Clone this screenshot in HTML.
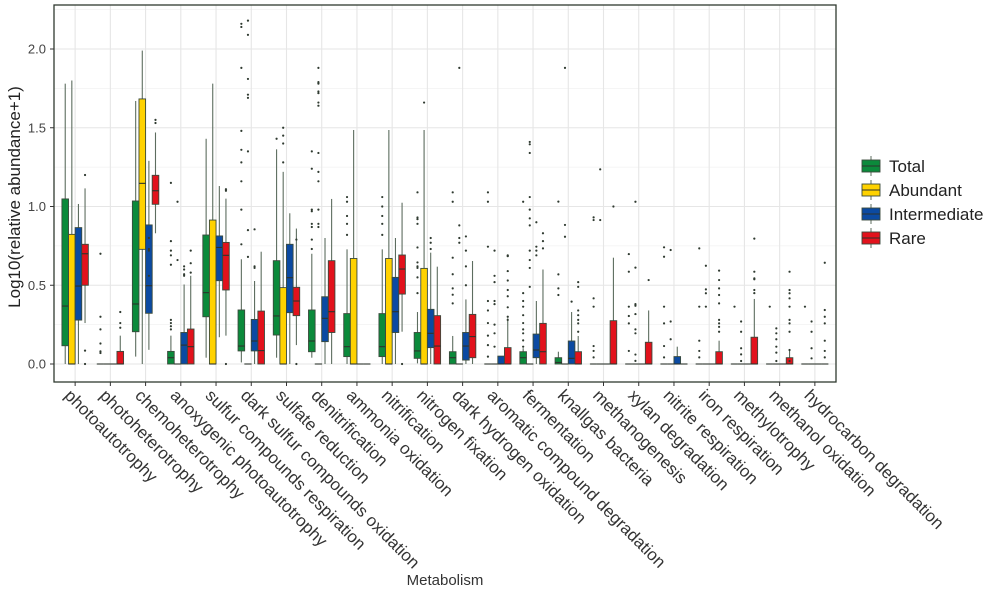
<!DOCTYPE html>
<html><head><meta charset="utf-8">
<style>
html,body{margin:0;padding:0;background:#fff;}
svg{display:block;font-family:"Liberation Sans",Arial,sans-serif;}
</style></head>
<body>
<svg id="chart" width="1000" height="593" viewBox="0 0 1000 593" xmlns="http://www.w3.org/2000/svg">
  <g id="grid"></g>
  <g id="marks"></g>
  <rect x="54" y="5" width="782" height="377" fill="none" stroke="#2f3a2f" stroke-width="1.3"/>
  <g id="axes"></g>
  <text transform="translate(20,197) rotate(-90)" text-anchor="middle" font-size="17" fill="#222">Log10(relative abundance+1)</text>
  <text x="445" y="585" text-anchor="middle" font-size="15" fill="#333">Metabolism</text>
  <g id="legend"></g>
</svg>
<script>
const categories = ["photoautotrophy","photoheterotrophy","chemoheterotrophy","anoxygenic photoautotrophy","sulfur compounds respiration","dark sulfur compounds oxidation","sulfate reduction","denitrification","ammonia oxidation","nitrification","nitrogen fixation","dark hydrogen oxidation","aromatic compound degradation","fermentation","knallgas bacteria","methanogenesis","xylan degradation","nitrite respiration","iron respiration","methylotrophy","methanol oxidation","hydrocarbon degradation"];
const seriesNames = ["Total","Abundant","Intermediate","Rare"];
const yTicks = [0,0.5,1,1.5,2];
const yTickLabels = ["0.0","0.5","1.0","1.5","2.0"];

const totalQ1  = [0.116,0,0.205,0,0.30,0.083,0.184,0.078,0.047,0.047,0.036,0,0,0,0,0,0,0,0,0,0,0];
const totalMed = [0.368,0,0.381,0.04,0.453,0.114,0.305,0.146,0.11,0.11,0.083,0.04,0,0.04,0.01,0,0,0,0,0,0,0];
const totalQ3  = [1.048,0,1.035,0.08,0.819,0.343,0.656,0.343,0.32,0.32,0.2,0.078,0,0.078,0.04,0,0,0,0,0,0,0];
const totalLo  = [0,0,0.047,0,0.04,0.01,0.04,0.04,0,0,0.004,0,0,0,0,0,0,0,0,0,0,0];
const totalHi  = [1.78,0,1.67,0.18,1.43,0.665,1.363,0.70,0.728,0.728,0.33,0.178,0,0.1,0.078,0,0,0,0,0,0,0];
const totalOut = [[],[0.70,0.30,0.22,0.13,0.08,0.07],[],[1.15,0.78,0.72,0.69,0.63,0.28,0.26,0.24,0.22],[],[2.16,2.14,1.88,1.48,1.36,1.28,1.16,0.98,0.76],[1.43],[1.35,1.24,0.98,0.97,0.89,0.87,0.79,0.73],[1.06,1.03,0.94,0.89,0.82],[1.06,1.0,0.94,0.89,0.82],[1.09,0.93,0.92,0.89,0.74,0.645,0.62,0.61,0.55,0.45],[1.09,1.03,0.675,0.57,0.48,0.44,0.385],[1.09,1.03,0.745,0.40,0.34,0.26,0.18,0.12,0.047],[1.03,0.45,0.40,0.364,0.31,0.26,0.22,0.195,0.15,0.11],[1.031,0.569,0.48,0.438],[0.931,0.914,0.417,0.364,0.114,0.083,0.042],[0.698,0.586,0.364,0.305,0.258,0.083],[0.741,0.681,0.364,0.258,0.114,0.042],[0.734,0.364,0.148,0.083,0.042],[0.364],[0.364],[0.364]];

const abundQ1  = [0,0,0.728,0,0,0,0,0,0,0,0,0,0,0,0,0,0,0,0,0,0,0];
const abundMed = [0,0,1.147,0,0,0,0,0,0,0,0,0,0,0,0,0,0,0,0,0,0,0];
const abundQ3  = [0.823,0,1.683,0,0.914,0,0.485,0,0.67,0.67,0.607,0,0,0,0,0,0,0,0,0,0,0];
const abundLo  = [0,0,0,0,0,0,0,0,0,0,0,0,0,0,0,0,0,0,0,0,0,0];
const abundHi  = [1.80,0,1.99,0,1.78,0,1.22,0,1.486,1.486,1.486,0,0,0,0,0,0,0,0,0,0,0];
const abundOut = [[],[],[],[1.03,0.66],[],[2.18,2.09,1.81,1.71,1.69,1.35,0.85,0.68],[1.50,1.45,1.40,1.28],[1.88,1.79,1.78,1.73,1.72,1.66,1.64,1.34,1.22,1.16,0.98,0.89,0.87],[],[],[1.66],[1.88,0.88,0.80,0.77],[0.72,0.56,0.52,0.40,0.38,0.25,0.195,0.11],[1.41,1.395,1.34,1.06,0.98,0.925,0.88,0.72,0.66,0.61,0.49],[1.88,0.883,0.808],[1.236,0.914],[1.03,0.612,0.38,0.37,0.317,0.22,0.195,0.06,0.02],[0.724,0.27,0.157],[0.624,0.474,0.449,0.364],[0.27,0.205,0.10,0.061,0.019],[0.226,0.195,0.157,0.11,0.072,0.019],[0.27,0.205,0.10,0.036]];

const interQ1  = [0.279,0,0.322,0,0.529,0.083,0.326,0.142,0,0.2,0.104,0.025,0,0.04,0,0,0,0,0,0,0,0];
const interMed = [0.495,0,0.497,0.12,0.74,0.146,0.548,0.29,0,0.332,0.195,0.114,0,0.089,0.036,0,0,0,0,0,0,0];
const interQ3  = [0.866,0,0.883,0.2,0.813,0.283,0.76,0.427,0,0.55,0.347,0.2,0.05,0.19,0.146,0,0,0.047,0,0,0,0];
const interLo  = [0,0,0.09,0,0.17,0,0,0,0,0,0,0,0,0,0,0,0,0,0,0,0,0];
const interHi  = [1.016,0,1.29,0.505,1.13,0.527,0.957,0.80,0,0.80,0.707,0.41,0.05,0.40,0.33,0,0,0.11,0,0,0,0];
const interOut = [[],[],[0.80,0.73,0.72,0.56],[0.62,0.60,0.57,0.56],[],[0.855,0.62,0.61],[],[],[],[],[0.80,0.77,0.73],[0.81,0.72,0.62,0.5],[],[0.90,0.745,0.72,0.69],[0.396],[],[],[],[],[],[],[]];

const rareQ1  = [0.50,0,1.014,0,0.47,0,0.307,0.2,0,0.444,0,0.04,0,0,0,0,0,0,0,0,0,0];
const rareMed = [0.70,0,1.10,0.11,0.69,0.085,0.40,0.332,0,0.603,0.114,0.174,0,0.078,0,0,0,0,0,0,0,0];
const rareQ3  = [0.76,0.08,1.198,0.222,0.772,0.336,0.487,0.656,0,0.692,0.307,0.315,0.104,0.258,0.078,0.275,0.138,0,0.078,0.17,0.04,0];
const rareLo  = [0.26,0,0.83,0,0.18,0,0.12,0,0,0.205,0,0,0,0,0,0,0,0,0,0,0,0];
const rareHi  = [1.115,0.18,1.47,0.56,1.05,0.713,0.86,1.048,0,1.024,0.618,0.654,0.29,0.60,0.178,0.675,0.34,0,0.148,0.413,0.083,0];
const rareOut = [[1.2,0.085,0],[0.33,0.26,0.23],[1.55,1.53],[0.72,0.64,0.58],[1.11,1.10,0],[],[0.79,0],[],[],[0],[],[],[0.69,0.685,0.59,0.53,0.47,0.43,0.36,0.30,0.28],[0.83,0.78,0.734],[0.52,0.49,0.34,0.31,0.28,0.258,0.205],[1.0],[0.533],[],[0.593,0.533,0.48,0.438,0.385,0.28,0.258,0.236,0.205],[0.796,0.586,0.544,0.538,0.47,0.45],[0.586,0.47,0.449,0.417,0.364,0.28,0.258,0.205,0.089,0.019],[0.643,0.343,0.30,0.258,0.148,0.083,0.042]];

const NS = "http://www.w3.org/2000/svg";
const PL = 54, PR = 836, PT = 5, PB = 382;
const unit = (PR - PL) / (categories.length + 0.2);
function xScale(i){ return PL + (i + 0.6) * unit; }
function yScale(v){ return 364 - 157.5 * v; }
function mk(tag, attrs, parent){
  const e = document.createElementNS(NS, tag);
  for (const k in attrs) e.setAttribute(k, attrs[k]);
  parent.appendChild(e);
  return e;
}
const colors = ["#0b8a3b","#ffd200","#0b4aa2","#e2121c"];
const seriesData = [
  [totalQ1,totalMed,totalQ3,totalLo,totalHi,totalOut],
  [abundQ1,abundMed,abundQ3,abundLo,abundHi,abundOut],
  [interQ1,interMed,interQ3,interLo,interHi,interOut],
  [rareQ1,rareMed,rareQ3,rareLo,rareHi,rareOut]
];
const grid = document.getElementById('grid');
const marks = document.getElementById('marks');
const axes = document.getElementById('axes');
const legend = document.getElementById('legend');

for (let v = -0.25; v <= 2.3; v += 0.25) {
  const y = yScale(v);
  if (y < PT || y > PB) continue;
  const major = Math.abs(v*2 - Math.round(v*2)) < 1e-6;
  const gl = mk('line', {x1:PL, x2:PR, y1:y, y2:y, stroke: major ? '#e6e6e6' : '#f2f2f2', 'stroke-width': major ? 1.1 : 0.8}, grid);
  
  
}
categories.forEach((c, i) => {
  const x = xScale(i);
  const gl = mk('line', {x1:x, x2:x, y1:PT, y2:PB, stroke:'#e6e6e6', 'stroke-width':1.1}, grid);
  
  
});

const bw = unit * 0.75 / 4;
seriesData.forEach((s, si) => {
  const [q1, med, q3, lo, hi, out] = s;
  categories.forEach((c, i) => {
    const cx = xScale(i) + (si - 1.5) * bw;
    const g = mk('g', {}, marks);
    
    
    mk('line', {x1:cx, x2:cx, y1:yScale(hi[i]), y2:yScale(q3[i]), stroke:'#5d6d5f', 'stroke-width':1.1}, g);
    mk('line', {x1:cx, x2:cx, y1:yScale(q1[i]), y2:yScale(lo[i]), stroke:'#5d6d5f', 'stroke-width':1.1}, g);
    const top = yScale(q3[i]), bot = yScale(q1[i]);
    mk('rect', {x:cx - bw/2, y:top, width:bw, height:Math.max(bot - top, 0.01), fill:colors[si], stroke:'#3a4a3c', 'stroke-width':0.9}, g);
    mk('line', {x1:cx - bw/2, x2:cx + bw/2, y1:yScale(med[i]), y2:yScale(med[i]), stroke:'#2c332c', 'stroke-width':1.1}, g);
    out[i].forEach(v => {
      const d = mk('circle', {cx:cx, cy:yScale(v), r:1.1, fill:'#2f3a30'}, g);
      
      
    });
  });
});

yTicks.forEach((v, k) => {
  const y = yScale(v);
  mk('line', {x1:PL - 4, x2:PL, y1:y, y2:y, stroke:'#333', 'stroke-width':1}, axes);
  const t = mk('text', {x:PL - 8, y:y + 4.5, 'text-anchor':'end', 'font-size':13, fill:'#444'}, axes);
  
  
  t.textContent = yTickLabels[k];
});
categories.forEach((c, i) => {
  const x = xScale(i);
  mk('line', {x1:x, x2:x, y1:PB, y2:PB + 4, stroke:'#333', 'stroke-width':1}, axes);
  const t = mk('text', {x:0, y:0, 'font-size':17, fill:'#333', transform:'translate(' + (x - 3) + ',' + (PB + 6) + ') rotate(45)', 'dominant-baseline':'hanging'}, axes);
  
  
  t.textContent = c;
});

seriesNames.forEach((n, k) => {
  const cy = 166 + k * 24;
  const g = mk('g', {}, legend);
  
  
  mk('line', {x1:871, x2:871, y1:cy - 10, y2:cy + 10, stroke:'#5d6d5f', 'stroke-width':1}, g);
  mk('rect', {x:862, y:cy - 6, width:18, height:12, fill:colors[k], stroke:'#3a4a3c', 'stroke-width':0.9}, g);
  mk('line', {x1:862, x2:880, y1:cy, y2:cy, stroke:'#2c332c', 'stroke-width':1}, g);
  const t = mk('text', {x:889, y:cy + 6, 'font-size':17, fill:'#222'}, g);
  t.textContent = n;
});
</script>
</body></html>
